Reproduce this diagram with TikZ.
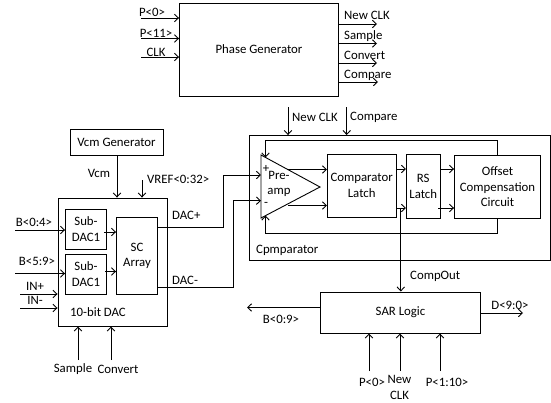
\documentclass[tikz,border=0pt]{standalone}
\usepackage{fontspec}
\setmainfont{Carlito}
\usetikzlibrary{arrows.meta}
\tikzstyle{block}=[draw,inner sep=0pt,align=center,line width=0.9pt]
\tikzstyle{txt}=[inner sep=0pt,align=center,font=\fontsize{12.8}{15.5}\selectfont]
\tikzstyle{lbl}=[txt,anchor=west]
\tikzstyle{sig}=[-{Straight Barb[length=4pt,width=7.5pt]},line width=0.9pt]
\tikzstyle{wire}=[line width=0.9pt]

\begin{document}
\begin{tikzpicture}[x=1pt,y=-1pt]
\useasboundingbox (0,0) rectangle (551,402);
% phase generator
\node [block,txt,draw,minimum width=159pt,minimum height=93pt] (phase) at (259,49.5) {Phase Generator};
\coordinate (pzero) at (141,18);
\coordinate (peleven) at (141,38.5);
\coordinate (clk) at (141,57);
\coordinate (newclkout) at (377,24);
\coordinate (sampleout) at (377,43.5);
\coordinate (convertout) at (377,63);
\coordinate (compareout) at (378,82);
\draw [sig] (pzero) -- (pzero -| phase.west);
\draw [sig] (peleven) -- (peleven -| phase.west);
\draw [sig] (clk) -- (clk -| phase.west);
\draw [sig] (newclkout -| phase.east) -- (newclkout);
\draw [sig] (sampleout -| phase.east) -- (sampleout);
\draw [sig] (convertout -| phase.east) -- (convertout);
\draw [sig] (compareout -| phase.east) -- (compareout);
\node [txt] (pzerolbl) at (152,12) {P<0>};
\node [txt] (pelevenlbl) at (156,33) {P<11>};
\node [txt] (clklbl) at (156,52) {CLK};
\node [lbl] (newclklbl) at (344,15) {New CLK};
\node [lbl] (samplelbl) at (344,36) {Sample};
\node [lbl] (convertlbl) at (344,55) {Convert};
\node [lbl] (comparelbl) at (344,75) {Compare};

% dac
\node [block,txt,minimum width=93pt,minimum height=25.5pt] (vcm) at (116.5,142.3) {Vcm Generator};
\node [block,minimum width=109pt,minimum height=128pt] (dac) at (112.5,262) {};
\node [block,txt,minimum width=41pt,minimum height=40.5pt] (subone) at (86,229.3) {Sub-\\DAC1};
\node [block,txt,minimum width=41pt,minimum height=40pt] (subtwo) at (86,274) {Sub-\\DAC1};
\node [block,txt,minimum width=41pt,minimum height=76.5pt] (scarray) at (137,255.8) {SC\\Array};
\coordinate (vcmtap) at (117,155);
\coordinate (vref) at (142,180);
\coordinate (bhigh) at (15,230);
\coordinate (blow) at (15,273.5);
\coordinate (inp) at (20,294);
\coordinate (inn) at (20,308);
\coordinate (samplein) at (78,360);
\coordinate (convertin) at (111,360);
\draw [sig] (vcmtap) -- (vcmtap |- dac.north);
\draw [sig] (vref) -- (vref |- dac.north);
\draw [sig] (bhigh) -- (bhigh -| subone.west);
\draw [sig] (blow) -- (blow -| subtwo.west);
\draw [sig] (inp) -- (inp -| dac.west);
\draw [sig] (inn) -- (inn -| dac.west);
\draw [sig] (samplein) -- (samplein |- dac.south);
\draw [sig] (convertin) -- (convertin |- dac.south);
\coordinate (subonetap) at (104,232);
\coordinate (subtwotap) at (105,271.5);
\draw [sig] (subonetap) -- (subonetap -| scarray.west);
\draw [sig] (subtwotap) -- (subtwotap -| scarray.west);
\node [txt] (vcmlbl) at (99,173) {Vcm};
\node [lbl] (vreflbl) at (147,179) {VREF<0:32>};
\node [txt] (bhighlbl) at (34,222) {B<0:4>};
\node [txt] (blowlbl) at (37,261) {B<5:9>};
\node [txt] (inplbl) at (35,286) {IN+};
\node [txt] (innlbl) at (35,300) {IN-};
\node [txt] (daclbl) at (98,312) {10-bit DAC};
\node [txt] (samplebot) at (73,369) {Sample};
\node [txt] (convertbot) at (118,369) {Convert};
\node [lbl] (dacplbl) at (172,215) {DAC+};
\node [lbl] (dacnlbl) at (172,280) {DAC-};

% comparator
\node [block,minimum width=301.5pt,minimum height=125pt] (comp) at (399.7,198) {};
\coordinate (tria) at (261,155);
\coordinate (trib) at (261,218);
\coordinate (tric) at (320,187);
\draw [wire] (tria) -- (tric) -- (trib) -- cycle;
\node [block,txt,minimum width=68.5pt,minimum height=63pt] (latch) at (361.7,185.5) {Comparator\\Latch};
\node [block,txt,minimum width=33.5pt,minimum height=63.5pt] (rs) at (423.2,186.2) {RS\\Latch};
\node [block,txt,minimum width=86pt,minimum height=63.5pt] (offset) at (497.5,186.7) {Offset\\Compensation\\Circuit};
\node [txt] (plus) at (266,169) {+};
\node [txt] (preamp) at (279,184) {Pre-\\amp};
\node [txt] (minus) at (266,204) {-};
\node [lbl] (complbl) at (256,250) {Cpmparator};
\coordinate (newclkin) at (288,107);
\coordinate (comparein) at (346.7,107);
\draw [sig] (newclkin) -- (newclkin |- comp.north);
\draw [sig] (comparein) -- (comparein |- comp.north);
\node [lbl] (newclktop) at (292,117) {New CLK};
\node [lbl] (comparetop) at (350,117) {Compare};
\coordinate (dacpbend) at (223.5,175);
\coordinate (dacnbend) at (233,200.7);
\coordinate (dacpstart) at (157.5,227.5);
\coordinate (dacnstart) at (157.5,287);
\draw [wire] (dacpstart) -| (dacpbend);
\draw [sig] (dacpbend) -- (dacpbend -| tria);
\draw [wire] (dacnstart) -| (dacnbend);
\draw [sig] (dacnbend) -- (dacnbend -| tria);
\coordinate (ampup) at (288,169.5);
\coordinate (ampdn) at (288,205.5);
\draw [sig] (ampup) -- (ampup -| latch.west);
\draw [sig] (ampdn) -- (ampdn -| latch.west);
\coordinate (rsup) at (396,169);
\coordinate (rsdn) at (396,208);
\draw [sig] (rsup) -- (rsup -| rs.west);
\draw [sig] (rsdn) -- (rsdn -| rs.west);
\coordinate (offup) at (440,169);
\coordinate (offdn) at (438,208);
\draw [sig] (offup) -- (offup -| offset.west);
\draw [sig] (offdn) -- (offdn -| offset.west);
\coordinate (fbtop) at (265.5,140.7);
\coordinate (fbbot) at (265.5,233);
\coordinate (fbtoptip) at (265.5,157.5);
\coordinate (fbbottip) at (265.5,215.5);
\draw [sig] (offset.north) -- (fbtop -| offset.north) -- (fbtop) -- (fbtoptip);
\draw [sig] (offset.south) -- (fbbot -| offset.south) -- (fbbot) -- (fbbottip);

% sar logic
\node [block,txt,minimum width=160pt,minimum height=41pt] (sar) at (400.5,312.5) {SAR Logic};
\coordinate (compouttap) at (400.8,208);
\coordinate (bout) at (247,307.5);
\coordinate (dout) at (523,313);
\coordinate (pzerobot) at (369,371);
\coordinate (newclkbot) at (400,371);
\coordinate (ptenbot) at (440,371);
\draw [sig] (compouttap) -- (compouttap |- sar.north);
\draw [sig] (bout -| sar.west) -- (bout);
\draw [sig] (dout -| sar.east) -- (dout);
\draw [sig] (pzerobot) -- (pzerobot |- sar.south);
\draw [sig] (newclkbot) -- (newclkbot |- sar.south);
\draw [sig] (ptenbot) -- (ptenbot |- sar.south);
\node [lbl] (compoutlbl) at (410,276) {CompOut};
\node [txt] (boutlbl) at (281,319) {B<0:9>};
\node [txt] (doutlbl) at (510,305) {D<9:0>};
\node [txt] (pzerosar) at (372,382) {P<0>};
\node [txt] (newclksar) at (399.5,387.5) {New\\CLK};
\node [txt] (ptensar) at (447,382) {P<1:10>};
\end{tikzpicture}
\end{document}
